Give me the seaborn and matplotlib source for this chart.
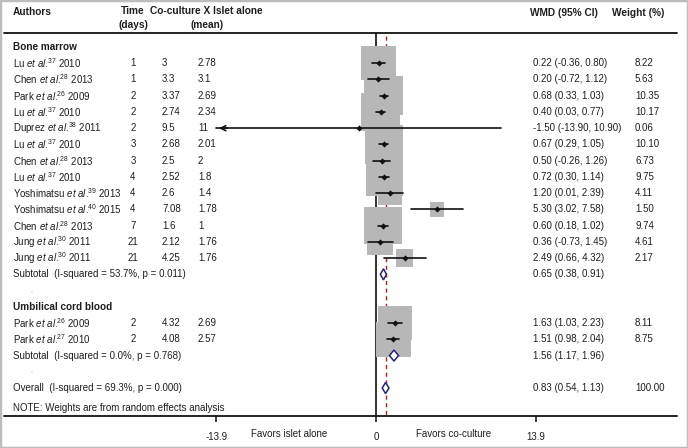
import matplotlib
matplotlib.use("Agg")
import matplotlib.pyplot as plt
import seaborn as sns
import pandas as pd
from matplotlib.patches import Polygon, Rectangle

# ---- data ----
authors = ["Lu", "Chen", "Park", "Lu", "Duprez", "Lu", "Chen", "Lu",
           "Yoshimatsu", "Yoshimatsu", "Chen", "Jung", "Jung",
           "Park", "Park"]
refs = [37, 28, 26, 37, 38, 37, 28, 37, 39, 40, 28, 30, 30, 26, 27]
years = [2010, 2013, 2009, 2010, 2011, 2010, 2013, 2010, 2013, 2015, 2013, 2011, 2011,
         2009, 2010]
groups = ["Bone marrow"] * 13 + ["Umbilical cord blood"] * 2
days = [1, 1, 2, 2, 2, 3, 3, 4, 4, 4, 7, 21, 21, 2, 2]
coculture = ["3", "3.3", "3.37", "2.74", "9.5", "2.68", "2.5", "2.52", "2.6", "7.08",
             "1.6", "2.12", "4.25", "4.32", "4.08"]
islet = ["2.78", "3.1", "2.69", "2.34", "11", "2.01", "2", "1.8", "1.4", "1.78",
         "1", "1.76", "1.76", "2.69", "2.57"]
wmd = [0.22, 0.20, 0.68, 0.40, -1.50, 0.67, 0.50, 0.72, 1.20, 5.30, 0.60, 0.36, 2.49,
       1.63, 1.51]
ci_lo = [-0.36, -0.72, 0.33, 0.03, -13.90, 0.29, -0.26, 0.30, 0.01, 3.02, 0.18, -0.73, 0.66,
         1.03, 0.98]
ci_hi = [0.80, 1.12, 1.03, 0.77, 10.90, 1.05, 1.26, 1.14, 2.39, 7.58, 1.02, 1.45, 4.32,
         2.23, 2.04]
weight = [8.22, 5.63, 10.35, 10.17, 0.06, 10.10, 6.73, 9.75, 4.11, 1.50, 9.74, 4.61, 2.17,
          8.11, 8.75]

group_names = ["Bone marrow", "Umbilical cord blood"]
sub_est = [0.65, 1.56]
sub_lo = [0.38, 1.17]
sub_hi = [0.91, 1.96]
sub_i2 = [53.7, 0.0]
sub_p = ["0.011", "0.768"]

overall_est, overall_lo, overall_hi = 0.83, 0.54, 1.13
overall_i2, overall_p = 69.3, "0.000"
axis_ticks = [-13.9, 0, 13.9]

# ---- row layout ----
rows, sub_rows, head_rows, blank_rows = [], [], [], []
r = 1
for g in group_names:
    head_rows.append(r)
    r += 1
    for i, gg in enumerate(groups):
        if gg == g:
            rows.append(r)
            r += 1
    sub_rows.append(r)
    blank_rows.append(r + 1)
    r += 2
overall_row = r
note_row = r + 1.25

df = pd.DataFrame({"wmd": wmd, "lo": ci_lo, "hi": ci_hi, "weight": weight, "row": rows})

sns.set_theme(style="white")
plt.rcParams["font.family"] = ["Liberation Sans", "DejaVu Sans"]
plt.rcParams["mathtext.fontset"] = "custom"
plt.rcParams["mathtext.rm"] = "Liberation Sans"
plt.rcParams["mathtext.it"] = "Liberation Sans:italic"

W, H = 688, 448
fig = plt.figure(figsize=(W / 100, H / 100), dpi=100)
ax = fig.add_axes([0, 0, 1, 1])

px_per_unit = 11.5
x_zero = 376
row_px = 16.24
axis_row = 23.72
top_row = 0.14

txt = "#1e1e1e"
fs = 7.0

# reference lines
ax.plot([0, 0], [top_row, axis_row], color="#222222", lw=1.3, zorder=1)
ax.plot([overall_est, overall_est], [top_row + 0.2, axis_row], color="#9a2a32",
        lw=1.0, dashes=(3, 2.5), zorder=1)

# weight boxes (area proportional to weight)
k = 74.6
wmin, wmax = min(weight), max(weight)
sns.scatterplot(data=df, x="wmd", y="row", size="weight", sizes=(k * wmin, k * wmax),
                size_norm=(wmin, wmax), marker="s", color="#b7b7b7", linewidth=0,
                legend=False, ax=ax, zorder=2)

# confidence intervals
for _, s in df.iterrows():
    ax.plot([s["lo"], s["hi"]], [s["row"], s["row"]], color="#111111", lw=1.2, zorder=3)
    if s["lo"] <= axis_ticks[0]:
        ax.annotate("", xy=(s["lo"], s["row"]), xytext=(s["lo"] + 1.2, s["row"]),
                    arrowprops=dict(arrowstyle="->", color="#111111", lw=1.2,
                                    mutation_scale=9), zorder=3)

sns.scatterplot(data=df, x="wmd", y="row", marker="D", s=10, color="#111111",
                linewidth=0, legend=False, ax=ax, zorder=4)

# pooled diamonds
def diamond(est, lo, hi, y):
    h = 0.34
    ax.add_patch(Polygon([(lo, y), (est, y - h), (hi, y), (est, y + h)], closed=True,
                         facecolor="white", edgecolor="#23237a", lw=1.1, zorder=4))

for i in range(len(group_names)):
    diamond(sub_est[i], sub_lo[i], sub_hi[i], sub_rows[i])
diamond(overall_est, overall_lo, overall_hi, overall_row)

ax.set_xlim(-x_zero / px_per_unit, (W - x_zero) / px_per_unit)
ax.set_ylim(1 + (H - 47) / row_px, 1 - 47 / row_px)
ax.axis("off")

tr = ax.get_yaxis_transform()
def fx(p):
    return p / W

# header
hb = dict(fontsize=7.3, fontweight="bold", color=txt, transform=tr, va="center")
ax.text(fx(13), -1.15, "Authors", ha="left", **hb)
ax.text(fx(133), -1.2, "Time", ha="center", **hb)
ax.text(fx(133), -0.35, "(days)", ha="center", **hb)
ax.text(fx(150), -1.2, "Co-culture X Islet alone", ha="left", **hb)
ax.text(fx(207), -0.35, "(mean)", ha="center", **hb)
ax.text(fx(530), -1.08, "WMD (95% CI)", ha="left", **hb)
ax.text(fx(612), -1.08, "Weight (%)", ha="left", **hb)

line_kw = dict(xmin=fx(4), xmax=fx(677), color="#111111", lw=1.3)
ax.axhline(top_row, **line_kw)
ax.axhline(axis_row, **line_kw)

tk = dict(fontsize=fs, color=txt, transform=tr, va="center")
for g, hr in zip(group_names, head_rows):
    ax.text(fx(13), hr, g, ha="left", fontweight="bold", fontsize=7.2, color=txt,
            transform=tr, va="center")

for i in range(len(authors)):
    y = rows[i]
    label = authors[i] + r" $\mathit{et\ al.}^{\!\!" + str(refs[i]) + "}$ " + str(years[i])
    ax.text(fx(13), y, label, ha="left", **tk)
    ax.text(fx(133), y, str(days[i]), ha="center", **tk)
    ax.text(fx(162), y, coculture[i], ha="left", **tk)
    ax.text(fx(198), y, islet[i], ha="left", **tk)
    ax.text(fx(533), y, f"{wmd[i]:.2f} ({ci_lo[i]:.2f}, {ci_hi[i]:.2f})", ha="left", **tk)
    ax.text(fx(635), y, f"{weight[i]:.2f}", ha="left", **tk)

for i in range(len(group_names)):
    y = sub_rows[i]
    ax.text(fx(13), y, f"Subtotal  (I-squared = {sub_i2[i]:.1f}%, p = {sub_p[i]})",
            ha="left", **tk)
    ax.text(fx(533), y, f"{sub_est[i]:.2f} ({sub_lo[i]:.2f}, {sub_hi[i]:.2f})",
            ha="left", **tk)
    ax.text(fx(30), blank_rows[i], ".", ha="left", fontsize=5, color="#777777",
            transform=tr, va="center")

ax.text(fx(13), overall_row, f"Overall  (I-squared = {overall_i2:.1f}%, p = {overall_p})",
        ha="left", **tk)
ax.text(fx(533), overall_row, f"{overall_est:.2f} ({overall_lo:.2f}, {overall_hi:.2f})",
        ha="left", **tk)
ax.text(fx(635), overall_row, "100.00", ha="left", **tk)
ax.text(fx(13), note_row, "NOTE: Weights are from random effects analysis", ha="left", **tk)

# x axis ticks
ax.vlines(axis_ticks, axis_row, axis_row + 0.38, color="#111111", lw=1.1)
for t in axis_ticks:
    ax.text(t, axis_row + 1.3, f"{t:g}", ha="center", va="center", fontsize=fs, color=txt)
ax.text(fx(289), axis_row + 1.1, "Favors islet alone", ha="center", **tk)
ax.text(fx(454), axis_row + 1.1, "Favors co-culture", ha="center", **tk)

fig.patches.append(Rectangle((0, 0), 1, 1, transform=fig.transFigure, fill=False,
                             edgecolor="#bdbdbd", lw=2.5))

fig.savefig("out.png", dpi=100)
